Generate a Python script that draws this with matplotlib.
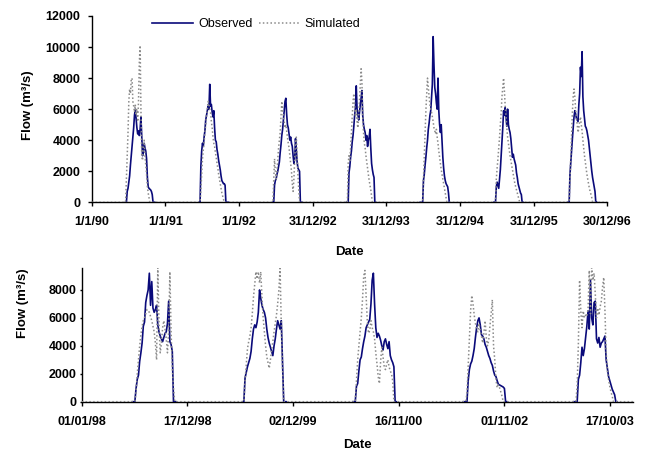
import numpy as np
import matplotlib
matplotlib.use('Agg')
import matplotlib.pyplot as plt

plt.rcParams['font.family'] = ['Liberation Sans', 'DejaVu Sans']

# day-of-year sample points used for every flow season
season_days = [168, 172, 176, 180, 184, 188, 192, 196, 200, 204, 208, 212, 216,
               220, 224, 228, 232, 236, 240, 244, 248, 252, 256, 260, 264, 268,
               272, 276, 280, 284, 288, 292, 296, 300, 304, 308, 312]

# ---- top panel, 1990-1996 (m3/s) ----
obs_1990 = [0, 0, 700, 900, 1300, 1700, 2400, 3000, 3600, 4200, 4800, 5600, 6000, 5400, 4800, 4400, 4600, 4300, 4700,
            5500, 4200, 3000, 3200, 3800, 3500, 3300, 2800, 1600, 1000, 900, 850, 800, 700, 500, 0, 0, 0]
sim_1990 = [0, 1500, 3000, 4500, 6500, 7300, 7000, 7900, 8000, 6500, 6200, 5800, 6300, 5600, 6000, 5200, 6500, 9000,
            10100, 6000, 3000, 2700, 3600, 4000, 3000, 2400, 1800, 1000, 600, 300, 0, 0, 0, 0, 0, 0, 0]
obs_1991 = [0, 0, 2300, 3300, 3800, 3600, 4200, 4600, 5300, 5600, 5900, 6200, 6000, 7600, 6200, 6300, 5800, 5500, 5900,
            4800, 4000, 3900, 3400, 3100, 2700, 2400, 2100, 1700, 1400, 1300, 1200, 1200, 1100, 0, 0, 0, 0]
sim_1991 = [0, 0, 800, 1800, 2800, 3400, 3900, 4500, 5000, 5600, 6000, 6500, 6300, 6000, 5800, 5200, 4800, 4200, 3800,
            3600, 3200, 2900, 2500, 2200, 1800, 1500, 1200, 900, 600, 400, 200, 0, 0, 0, 0, 0, 0]
obs_1992 = [0, 0, 1100, 1400, 1500, 1800, 2000, 2300, 2600, 3200, 3700, 4300, 4700, 5300, 5900, 6500, 6700, 5700, 5000,
            4800, 4400, 4000, 4200, 3800, 3600, 3000, 2500, 2800, 4100, 3400, 2600, 2200, 2100, 2000, 0, 0, 0]
sim_1992 = [0, 1500, 2800, 2000, 1500, 2000, 2800, 3500, 4000, 4500, 5500, 6500, 6000, 5500, 5200, 4800, 5000, 4600,
            4200, 3800, 3500, 3000, 2500, 2000, 1200, 700, 1500, 2800, 3800, 4200, 3000, 1800, 800, 0, 0, 0, 0]
obs_1993 = [0, 0, 0, 1900, 2300, 2900, 3300, 3900, 4300, 4900, 5600, 6100, 7500, 6000, 5700, 5300, 5800, 6300, 6700,
            7200, 5600, 5000, 4700, 4500, 4000, 4300, 3600, 4000, 4200, 4700, 3500, 2500, 2100, 1800, 1600, 0, 0]
sim_1993 = [0, 0, 2500, 3000, 2600, 3500, 4500, 5500, 6500, 7000, 6200, 5500, 6000, 5200, 4800, 5500, 6500, 7500,
            8600, 7800, 5500, 4500, 3800, 3500, 3000, 2600, 2200, 1800, 1400, 1100, 800, 400, 0, 0, 0, 0, 0]
obs_1994 = [0, 0, 0, 0, 1400, 1800, 2400, 2900, 3500, 4000, 4700, 5100, 5600, 5900, 6800, 7600, 10670, 8900, 7400,
            7000, 6400, 6000, 8000, 5900, 5000, 4500, 5000, 4000, 2900, 2200, 1700, 1400, 1200, 1100, 1000, 600, 0]
sim_1994 = [0, 0, 0, 0, 1500, 3000, 4500, 5900, 7000, 8000, 7400, 6800, 6300, 6000, 5800, 5500, 5200, 4800, 4600,
            4400, 4700, 4200, 3800, 3300, 2900, 2500, 2100, 1800, 1500, 1200, 900, 600, 300, 0, 0, 0, 0]
obs_1995 = [0, 0, 0, 1000, 1300, 1100, 900, 1500, 2100, 3000, 3800, 4800, 5900, 5600, 6100, 5500, 4900, 6000, 5000,
            4700, 4500, 4100, 3500, 2900, 3100, 2800, 2600, 2400, 1900, 1600, 1200, 1000, 800, 600, 500, 0, 0]
sim_1995 = [0, 0, 0, 1500, 2200, 2800, 3500, 4200, 5000, 5800, 6800, 7400, 8000, 7200, 6200, 5600, 4800, 4200, 3800,
            3400, 3000, 2700, 2400, 2100, 1800, 1500, 1200, 1000, 800, 600, 400, 200, 0, 0, 0, 0, 0]
obs_1996 = [0, 0, 0, 1800, 2600, 3400, 4100, 4800, 5500, 5900, 5700, 5400, 5300, 5200, 6300, 7000, 8700, 8100, 9700,
            6800, 5900, 5400, 4900, 4800, 4600, 4300, 4000, 3500, 3000, 2500, 2000, 1600, 1300, 1000, 700, 0, 0]
sim_1996 = [0, 0, 0, 1500, 3000, 4500, 5800, 6800, 7300, 6800, 6000, 5400, 5000, 4500, 4800, 5200, 5500, 5000, 4600,
            4000, 3500, 3000, 2600, 2200, 1800, 1500, 1200, 900, 700, 500, 300, 0, 0, 0, 0, 0, 0]

# ---- bottom panel, 1998-2003 (no 2001) ----
obs_1998 = [0, 0, 0, 950, 1600, 1900, 2900, 3500, 4200, 5400, 5700, 7100, 7600, 8000, 9200, 6900, 8600, 6700, 6400,
            6600, 6900, 5500, 5000, 4700, 4500, 4300, 4600, 4900, 5000, 5600, 7200, 4300, 4100, 3600, 0, 0, 0]
sim_1998 = [0, 0, 0, 700, 2000, 3000, 4000, 4800, 5400, 5800, 6000, 6300, 6600, 6500, 6400, 6100, 5800, 5400, 5000,
            4200, 3000, 9600, 5500, 3500, 4200, 5300, 5800, 5200, 4500, 3500, 5000, 9300, 5000, 2400, 1000, 0, 0]
obs_1999 = [0, 0, 1700, 2100, 2500, 2800, 3100, 3600, 4500, 5200, 5500, 5300, 5700, 6400, 8000, 7400, 6900, 6600, 6400,
            6000, 5200, 4600, 4200, 3900, 3600, 3300, 4000, 4500, 5200, 5800, 5500, 5200, 5800, 3000, 0, 0, 0]
sim_1999 = [0, 0, 1500, 2700, 3800, 4300, 4700, 5300, 6300, 7500, 8400, 9300, 8800, 9300, 8500, 9300, 7500, 6000, 5000,
            4000, 3200, 2800, 2400, 3000, 3700, 4300, 5000, 5600, 6200, 7000, 8000, 9550, 5500, 2500, 0, 0, 0]
obs_2000 = [0, 0, 0, 1100, 1300, 2200, 3000, 3200, 3800, 4300, 4700, 5300, 5500, 5700, 5900, 7000, 8700, 9200, 7000,
            5300, 4600, 4900, 4700, 4400, 4000, 3700, 4300, 4500, 4100, 3800, 4300, 3300, 3000, 2800, 2500, 0, 0]
sim_2000 = [0, 0, 0, 1500, 3000, 4000, 5000, 6000, 7300, 9000, 9400, 7500, 5700, 4900, 5100, 5800, 5300, 5000, 4500,
            3500, 2700, 1800, 1300, 2900, 3900, 3200, 2500, 2300, 2700, 3000, 2500, 2200, 2000, 1500, 0, 0, 0]
obs_2002 = [0, 0, 0, 0, 1500, 2300, 2700, 2900, 3300, 3800, 4600, 5300, 5800, 6000, 5500, 4800, 4700, 4500, 4100,
            3900, 3600, 3300, 3100, 2800, 2600, 2200, 1900, 1800, 1500, 1250, 1200, 1150, 1100, 1050, 950, 0, 0]
sim_2002 = [0, 0, 0, 600, 2500, 4500, 6500, 7600, 7000, 6200, 5600, 5200, 5000, 5600, 5100, 4700, 4200, 4900, 5800,
            4600, 4000, 4400, 5400, 6300, 7300, 4000, 3000, 1600, 1000, 1200, 1000, 700, 400, 0, 0, 0, 0]
obs_2003 = [0, 0, 0, 0, 1600, 1900, 2800, 3900, 3300, 3800, 4600, 5400, 6500, 5200, 8700, 6000, 5500, 7100, 7200,
            4500, 4200, 4600, 3900, 4200, 4300, 4500, 4700, 3000, 2400, 1800, 1500, 1200, 900, 700, 500, 0, 0]
sim_2003 = [0, 0, 0, 1200, 4200, 8700, 6500, 5300, 6500, 6000, 6200, 6100, 6600, 9400, 6300, 9600, 8700, 9200, 7700,
            6000, 6700, 6200, 6800, 7200, 8200, 8900, 6500, 3500, 2200, 1600, 1100, 700, 400, 0, 0, 0, 0]

# day index where each year begins on the chart's (category) x axis
top_starts = [0, 365, 730, 1095, 1460, 1825, 2190]
top_end = 2555
top_ticks = [0, 365, 730, 1095, 1460, 1825, 2190, 2555]
top_labels = ['1/1/90', '1/1/91', '1/1/92', '31/12/92', '31/12/93', '31/12/94', '31/12/95', '30/12/96']

bot_starts = [0, 365, 730, 1096, 1461]
bot_end = 1826
bot_ticks = [0, 350, 700, 1050, 1400, 1750]
bot_labels = ['01/01/98', '17/12/98', '02/12/99', '16/11/00', '01/11/02', '17/10/03']

top_obs = [obs_1990, obs_1991, obs_1992, obs_1993, obs_1994, obs_1995, obs_1996]
top_sim = [sim_1990, sim_1991, sim_1992, sim_1993, sim_1994, sim_1995, sim_1996]
bot_obs = [obs_1998, obs_1999, obs_2000, obs_2002, obs_2003]
bot_sim = [sim_1998, sim_1999, sim_2000, sim_2002, sim_2003]

OBS_COLOR = '#0a0a7a'
SIM_COLOR = '#8a8a8a'


def obs_line(starts, seasons):
    # observed: drawn only during each flow season
    xs, ys = [], []
    for s, vals in zip(starts, seasons):
        xs += [s + d for d in season_days] + [np.nan]
        ys += list(vals) + [np.nan]
    return xs, ys


def sim_line(starts, seasons, end):
    # simulated: continuous, zero outside the seasons
    xs, ys = [0], [0]
    for s, vals in zip(starts, seasons):
        xs += [s + d for d in season_days]
        ys += list(vals)
    xs.append(end)
    ys.append(0)
    return xs, ys


def style_axes(ax, ticks, labels, end, ymax, yticks, ypad, ylen):
    ax.set_xlim(0, end)
    ax.set_ylim(0, ymax)
    ax.set_xticks(ticks)
    ax.set_xticklabels(labels, fontsize=9, fontweight='bold')
    ax.set_yticks(yticks)
    ax.set_yticklabels([str(v) for v in yticks], fontsize=9, fontweight='bold')
    ax.spines['top'].set_visible(False)
    ax.spines['right'].set_visible(False)
    for sp in ['left', 'bottom']:
        ax.spines[sp].set_linewidth(1.0)
    ax.tick_params(axis='x', direction='out', length=3, width=1, pad=7)
    ax.tick_params(axis='y', direction='out', length=ylen, width=1, pad=ypad)


fig = plt.figure(figsize=(6.48, 4.54), dpi=100)
ax1 = fig.add_axes([0.1415, 0.5544, 0.7957, 0.4104])
ax2 = fig.add_axes([0.1261, 0.1152, 0.8508, 0.2938])

x, y = obs_line(top_starts, top_obs)
ax1.plot(x, y, color=OBS_COLOR, lw=1.2, label='Observed', zorder=3)
x, y = sim_line(top_starts, top_sim, top_end)
ax1.plot(x, y, color=SIM_COLOR, lw=1.1, ls=(0, (1, 1.5)), label='Simulated', zorder=4)

x, y = obs_line(bot_starts, bot_obs)
ax2.plot(x, y, color=OBS_COLOR, lw=1.2, zorder=3)
x, y = sim_line(bot_starts, bot_sim, bot_end)
ax2.plot(x, y, color=SIM_COLOR, lw=1.1, ls=(0, (1, 1.5)), zorder=4)

style_axes(ax1, top_ticks, top_labels, top_end, 12000, list(range(0, 12001, 2000)), 5, 3)
style_axes(ax2, bot_ticks, bot_labels, bot_end, 9550, list(range(0, 8001, 2000)), 2, 1.5)

for ax, lx, ly, dy in [(ax1, -0.1235, 0.522, -0.267), (ax2, -0.107, 0.74, -0.325)]:
    ax.set_ylabel('Flow (m³/s)', fontsize=9.5, fontweight='bold', va='center')
    ax.yaxis.set_label_coords(lx, ly)
    ax.set_xlabel('Date', fontsize=9.5, fontweight='bold', va='center')
    ax.xaxis.set_label_coords(0.5, dy)

ax1.legend(loc='center', bbox_to_anchor=(0.319, 0.957), ncol=2, frameon=False,
           fontsize=9, handlelength=3.3, handletextpad=0.4, columnspacing=0.5,
           borderpad=0.1)

fig.savefig('out.png', dpi=100)
